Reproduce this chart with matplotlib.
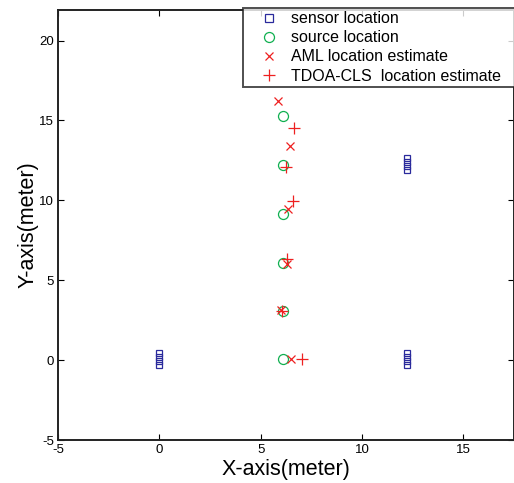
import matplotlib
matplotlib.use("Agg")
import matplotlib.pyplot as plt

plt.rcParams["font.family"] = ["Liberation Sans", "DejaVu Sans"]
plt.rcParams["axes.unicode_minus"] = False

# microphone elements of the three sensor arrays
sensor_x = [0.0] * 4 + [12.2] * 4 + [12.2] * 4
sensor_y = [-0.28, -0.03, 0.22, 0.47,
            -0.28, -0.03, 0.22, 0.47,
            11.89, 12.14, 12.39, 12.64]

# true source positions
source_x = [6.1, 6.1, 6.1, 6.1, 6.1, 6.1]
source_y = [0.05, 3.1, 6.1, 9.15, 12.2, 15.25]

# AML estimates
aml_x = [6.5, 6.02, 6.32, 6.37, 6.44, 5.83]
aml_y = [0.05, 3.15, 6.0, 9.48, 13.37, 16.2]

# TDOA-CLS estimates
tdoa_x = [7.06, 6.06, 6.32, 6.6, 6.27, 6.62]
tdoa_y = [0.05, 3.1, 6.31, 9.96, 12.1, 14.52]

xticks = [-5, 0, 5, 10, 15]
yticks = [-5, 0, 5, 10, 15, 20]

BLUE = "#2a2a9c"
GREEN = "#10b050"
RED = "#ee2020"

fig = plt.figure(figsize=(5.14, 4.83), dpi=100)
ax = fig.add_axes([0.113, 0.089, 0.887, 0.89])

ax.plot(sensor_x, sensor_y, "s", mfc="none", mec=BLUE, ms=4.6, mew=0.9,
        label="sensor location")
ax.plot(source_x, source_y, "o", mfc="none", mec=GREEN, ms=7.2, mew=0.9,
        label="source location")
ax.plot(aml_x, aml_y, "x", color=RED, ms=6, mew=0.9,
        label="AML location estimate")
ax.plot(tdoa_x, tdoa_y, "+", color=RED, ms=8, mew=0.9,
        label="TDOA-CLS  location estimate")

ax.set_xlim(-5, 17.5)
ax.set_ylim(-5, 21.9)
ax.set_xticks(xticks)
ax.set_yticks(yticks)
ax.tick_params(direction="in", length=4, width=0.8, labelsize=9.5,
               top=True, right=True, pad=3)
for s in ax.spines.values():
    s.set_linewidth(1.4)
    s.set_color("#222222")

ax.set_xlabel("X-axis(meter)", fontsize=15.5, labelpad=2)
ax.set_ylabel("Y-axis(meter)", fontsize=15.5, labelpad=0)

# legend box runs past the right edge of the picture, as in the original
leg = ax.legend(loc="upper left", bbox_to_anchor=(0.406, 0.0, 0.62, 1.005),
                mode="expand", borderaxespad=0, fontsize=11.5,
                fancybox=False, frameon=True, handlelength=2.8,
                handletextpad=0.0, labelspacing=0.26, borderpad=0.2)
leg.get_frame().set_edgecolor("#222222")
leg.get_frame().set_linewidth(1.4)
leg.legend_handles[0].set_markersize(6)

fig.savefig("out.png", dpi=100)
